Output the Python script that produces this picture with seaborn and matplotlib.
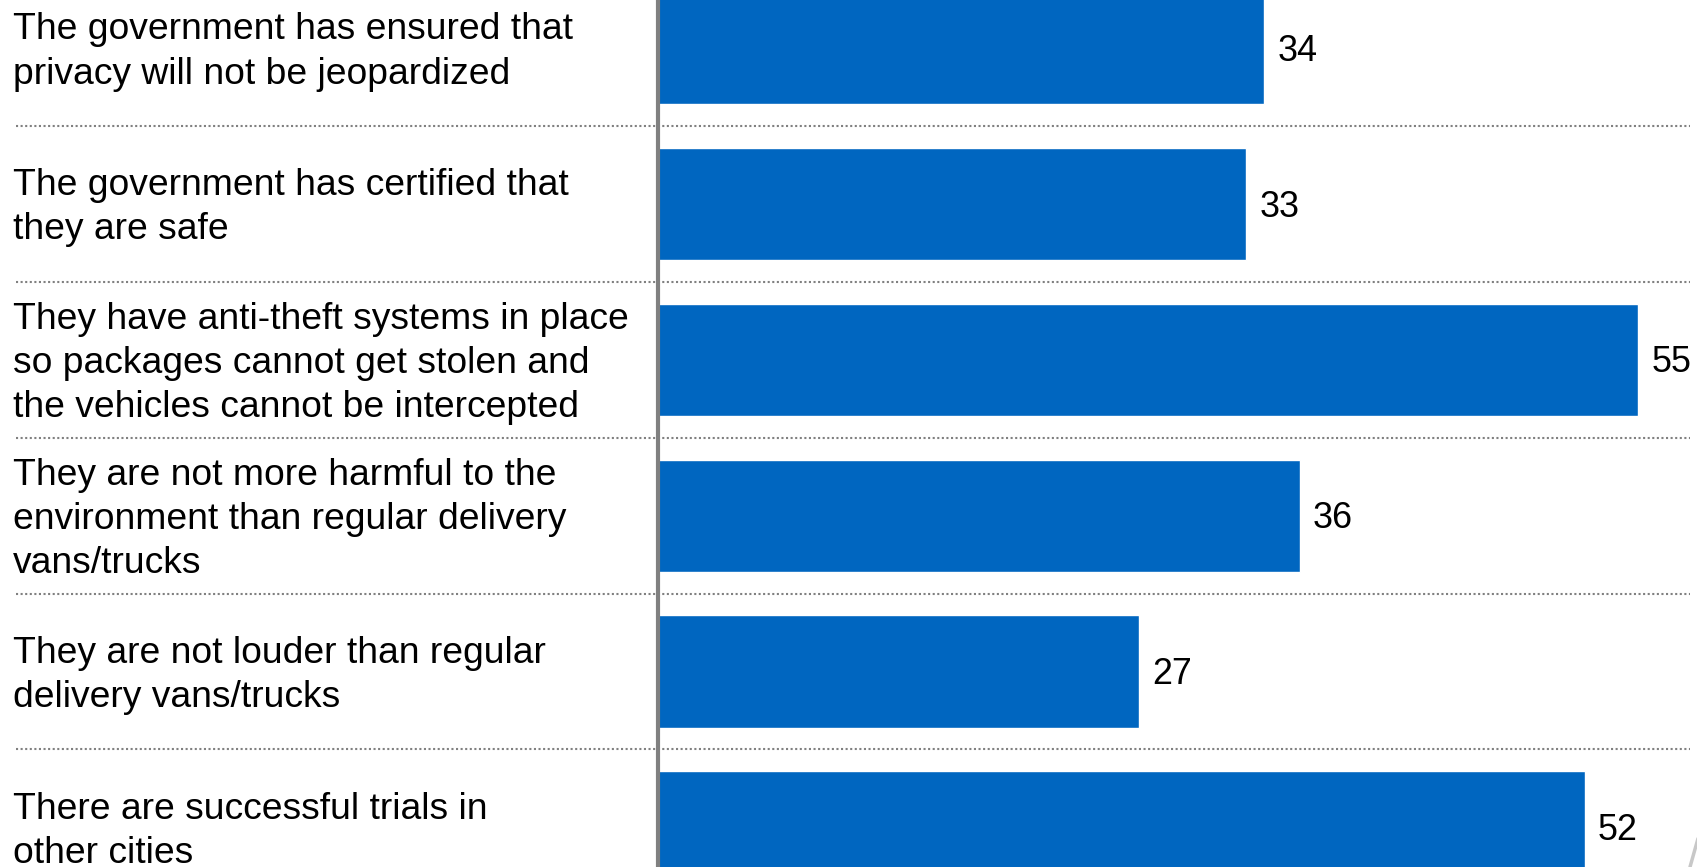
import matplotlib
matplotlib.use("Agg")
import matplotlib.pyplot as plt
import matplotlib.transforms as mtransforms
import seaborn as sns
import pandas as pd

# data
statements = [
    "The government has ensured that\nprivacy will not be jeopardized",
    "The government has certified that\nthey are safe",
    "They have anti-theft systems in place\nso packages cannot get stolen and\nthe vehicles cannot be intercepted",
    "They are not more harmful to the\nenvironment than regular delivery\nvans/trucks",
    "They are not louder than regular\ndelivery vans/trucks",
    "There are successful trials in\nother cities",
]
percent = [34, 33, 55, 36, 27, 52]

bar_color = "#0066C0"
grey = "#808080"

sns.set_theme(style="white")
plt.rcParams["font.family"] = ["Liberation Sans", "DejaVu Sans"]

df = pd.DataFrame({"statement": statements, "percent": percent})

fig = plt.figure(figsize=(16.97, 8.67), dpi=100)
ax = fig.add_axes([658 / 1697, 0, 1 - 658 / 1697, 1])

sns.barplot(data=df, x="percent", y="statement", orient="h", color=bar_color,
            saturation=1, width=0.72, ax=ax)

ax.set_xlim(0, 58.3)
ax.set_ylim(5.254, -0.309)
ax.set_xlabel("")
ax.set_ylabel("")
ax.set_xticks([])
ax.set_yticks([])
for side in ["top", "right", "bottom"]:
    ax.spines[side].set_visible(False)
ax.spines["left"].set_color(grey)
ax.spines["left"].set_linewidth(3)
ax.spines["left"].set_zorder(5)

# labels in the left area and value labels
trans = mtransforms.blended_transform_factory(fig.transFigure, ax.transData)
for i, (s, v) in enumerate(zip(statements, percent)):
    ax.text(13 / 1697, i + 0.025, s, transform=trans, ha="left", va="center",
            fontsize=26.8, color="black", linespacing=1.34, clip_on=False)
    ax.text(v + 0.75, i + 0.02, str(v), ha="left", va="center", fontsize=25.8, color="black")

# dotted separators between rows
for i in range(len(statements) - 1):
    ax.plot([16 / 1697, 1690 / 1697], [i + 0.5, i + 0.5], transform=trans,
            color=grey, linestyle=(0, (1, 1.2)), linewidth=1.5, clip_on=False, zorder=1)

# small decorative slash at bottom right
fig.add_artist(plt.Line2D([1690 / 1697, 1699 / 1697], [0, 32 / 867], color="#c8c8c8",
                          linewidth=2.5, transform=fig.transFigure))

fig.savefig("out.png", dpi=100)
